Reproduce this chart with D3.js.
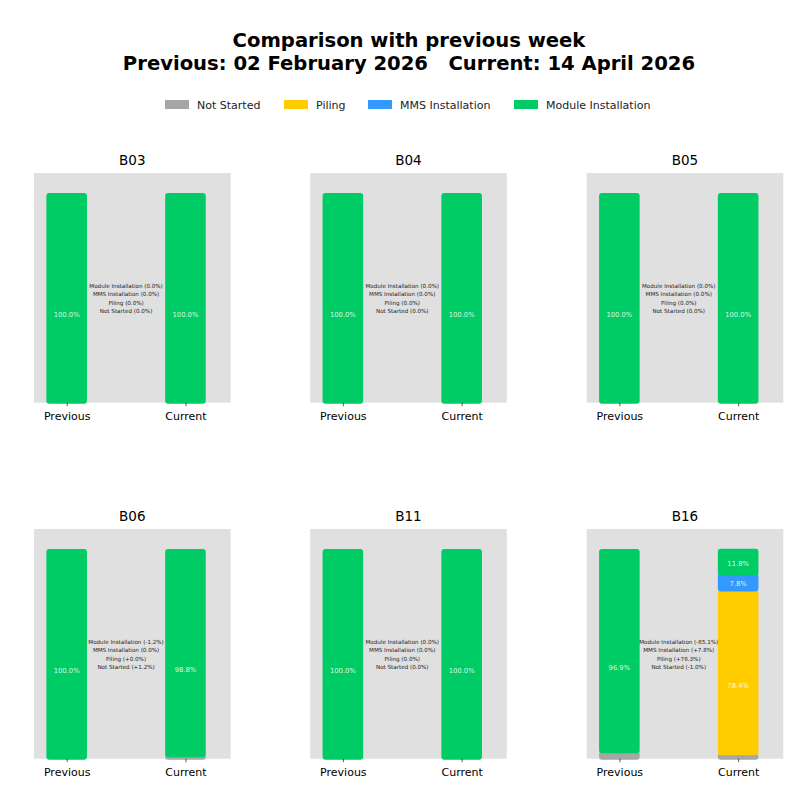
<!DOCTYPE html>
<html>
<head>
<meta charset="utf-8">
<script src="https://cdn.jsdelivr.net/npm/d3@7"></script>
<style>
  html, body { margin: 0; padding: 0; background: #ffffff; }
  svg { display: block; font-family: "DejaVu Sans", sans-serif; }
  text { white-space: pre; }
</style>
</head>
<body>
<svg id="chart" width="810" height="796"></svg>
<script>
// ---------------- data ----------------
const blocks = ["B03", "B04", "B05", "B06", "B11", "B16"];
const stages = ["Not Started", "Piling", "MMS Installation", "Module Installation"];
const stageColors = ["#A6A6A6", "#FFCC00", "#3399FF", "#00CC66"];
const periods = ["Previous", "Current"];

// percentages per block (order matches blocks)
const prevNotStarted = [0, 0, 0, 0, 0, 3.1];
const prevPiling     = [0, 0, 0, 0, 0, 0.0];
const prevMMS        = [0, 0, 0, 0, 0, 0.0];
const prevModule     = [100, 100, 100, 100, 100, 96.9];

const currNotStarted = [0, 0, 0, 1.2, 0, 2.1];
const currPiling     = [0, 0, 0, 0.0, 0, 78.4];
const currMMS        = [0, 0, 0, 0, 0, 7.8];
const currModule     = [100, 100, 100, 98.8, 100, 11.8];

// week-over-week changes shown in the middle annotation
const deltaModule     = [0, 0, 0, -1.2, 0, -85.1];
const deltaMMS        = [0, 0, 0, 0, 0, 7.8];
const deltaPiling     = [0, 0, 0, 0.01, 0, 78.3];
const deltaNotStarted = [0, 0, 0, 1.2, 0, -1.0];

const titleLine1 = "Comparison with previous week";
const titleLine2 = "Previous: 02 February 2026   Current: 14 April 2026";

// ---------------- layout ----------------
const svg = d3.select("#chart");
const colX = [34, 310.2, 586.7];
const rowY = [173, 529];
const panelW = 196.6, panelH = 229.7;

// title
svg.append("text").attr("x", 409).attr("y", 47).attr("text-anchor", "middle")
  .attr("font-size", 19.6).attr("font-weight", "bold").attr("fill", "#000").text(titleLine1);
svg.append("text").attr("x", 409).attr("y", 69.5).attr("text-anchor", "middle")
  .attr("font-size", 19.6).attr("font-weight", "bold").attr("fill", "#000").text(titleLine2);

// legend
const legendX = [165, 284, 368, 514];
const lg = svg.append("g");
stages.forEach((s, i) => {
  lg.append("rect").attr("x", legendX[i]).attr("y", 100).attr("width", 24).attr("height", 9)
    .attr("fill", stageColors[i]);
  lg.append("text").attr("x", legendX[i] + 32).attr("y", 109).attr("font-size", 11)
    .attr("fill", "#222").text(s);
});

function fmtDelta(d) {
  if (d === 0) return "(0.0%)";
  const s = Math.abs(d).toFixed(1) + "%";
  return d > 0 ? "(+" + s + ")" : "(-" + s + ")";
}

const x = d3.scaleLinear().domain([-0.275, 1.38]);
const y = d3.scaleLinear().domain([0, 110]);
const barW = 0.325;
const pad = 1;

blocks.forEach((b, bi) => {
  const col = bi % 3, row = Math.floor(bi / 3);
  const g = svg.append("g").attr("transform", `translate(${colX[col]},${rowY[row]})`);
  x.range([0, panelW]);
  y.range([panelH, 0]);

  g.append("rect").attr("width", panelW).attr("height", panelH).attr("fill", "#E0E0E0");

  const series = [
    [prevNotStarted[bi], prevPiling[bi], prevMMS[bi], prevModule[bi]],
    [currNotStarted[bi], currPiling[bi], currMMS[bi], currModule[bi]]
  ];

  series.forEach((vals, pi) => {
    let base = 0;
    vals.forEach((v, si) => {
      if (v > 0) {
        const y0 = y(base), y1 = y(base + v);
        g.append("rect")
          .attr("x", x(pi - barW / 2) - pad)
          .attr("width", x(pi + barW / 2) - x(pi - barW / 2) + 2 * pad)
          .attr("y", y1 - pad)
          .attr("height", Math.max(0, y0 - y1) + 2 * pad)
          .attr("rx", 3).attr("ry", 3)
          .attr("fill", stageColors[si]);
        if (v >= 5) {
          g.append("text")
            .attr("x", x(pi))
            .attr("y", y(base + v * 0.42))
            .attr("dy", "0.35em")
            .attr("text-anchor", "middle")
            .attr("font-size", 6.8)
            .attr("fill", "#ffffff").attr("fill-opacity", 0.85)
            .text(v.toFixed(1) + "%");
        }
      }
      base += v;
    });
  });

  // middle annotation
  const notes = [
    "Module Installation " + fmtDelta(deltaModule[bi]),
    "MMS Installation " + fmtDelta(deltaMMS[bi]),
    "Piling " + fmtDelta(deltaPiling[bi]),
    "Not Started " + fmtDelta(deltaNotStarted[bi])
  ];
  const cy = y(50);
  notes.forEach((t, i) => {
    g.append("text")
      .attr("x", x(0.5))
      .attr("y", cy + (i - 1.5) * 8.5)
      .attr("dy", "0.35em")
      .attr("text-anchor", "middle")
      .attr("font-size", 5.6)
      .attr("fill", "#222")
      .text(t);
  });

  // x axis
  const ax = g.append("g").attr("transform", `translate(0,${panelH})`)
    .call(d3.axisBottom(x).tickValues([0, 1]).tickFormat((d) => periods[d]).tickSize(3.5).tickPadding(6.5));
  ax.select(".domain").remove();
  ax.selectAll("line").attr("stroke", "#333").attr("stroke-width", 0.8);
  ax.selectAll("text").attr("font-size", 11).attr("fill", "#000")
    .attr("font-family", "DejaVu Sans, sans-serif");

  // panel title
  g.append("text").attr("x", panelW / 2).attr("y", -8.5).attr("text-anchor", "middle")
    .attr("font-size", 13.5).attr("fill", "#000").text(b);
});
</script>
</body>
</html>
